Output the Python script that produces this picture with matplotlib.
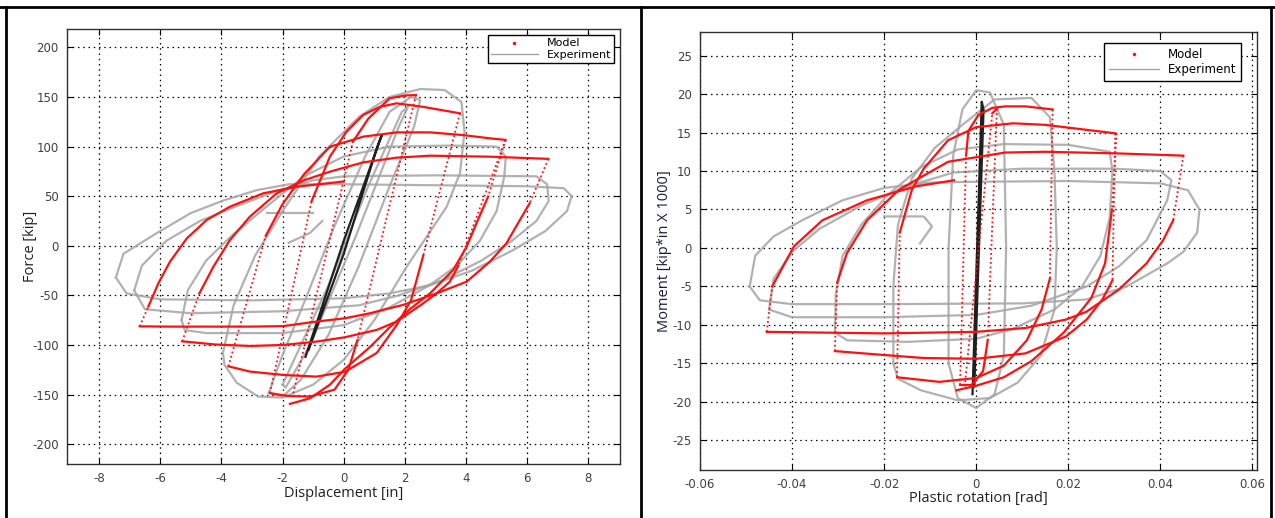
import matplotlib
matplotlib.use('Agg')
import matplotlib.pyplot as plt
from matplotlib.lines import Line2D
from matplotlib.ticker import FuncFormatter, MultipleLocator

plt.rcParams['axes.unicode_minus'] = False

# ---------------- left: force vs displacement ----------------
# model branches, reloading (start at negative corner)
force_up_1 = [(-6.67, -81.2), (-6.39, -61.4), (-6.06, -37.8), (-5.68, -16), (-5.13, 7.5), (-4.48, 26),
              (-3.72, 39.4), (-2.63, 52.9), (-1.54, 59.5), (0.0, 64.8)]
force_up_2 = [(-5.28, -96.3), (-4.72, -48), (-4.26, -21), (-3.72, 5.8), (-3.07, 29.3), (-2.19, 52.9),
              (-1.3, 66), (-0.45, 74.7), (0.64, 84.1), (1.73, 88.8), (2.82, 90.8), (4.78, 89.8), (6.69, 87.6)]
force_up_3 = [(-3.77, -121.5), (-2.55, 10), (-2.0, 42), (-1.3, 72), (-0.45, 99.9), (0.64, 110),
              (1.73, 114.3), (2.82, 114.3), (3.9, 111.6), (4.78, 108.3), (5.29, 106.7)]
force_up_4 = [(-2.41, -148.6), (-1.05, 45), (-0.45, 90), (0.09, 115), (0.64, 132), (1.18, 140),
              (1.73, 143.6), (2.6, 140), (3.8, 133.5)]
force_up_5 = [(-1.65, -148.6), (0.3, 105), (0.8, 128), (1.5, 148.6), (2.0, 151.5), (2.36, 152)]
# model branches, unloading (start at positive corner)
force_dn_1 = [(6.69, 87.6), (6.08, 42.8), (5.76, 26), (5.32, 2.5), (4.78, -16), (4.02, -36.2), (3.04, -47.9),
              (1.94, -59.6), (0.86, -68), (0.04, -73.1), (-0.89, -76.4), (-1.98, -81), (-3.07, -81.5),
              (-5.68, -81.5), (-6.67, -81.2)]
force_dn_2 = [(5.29, 106.7), (3.75, -20), (3.47, -36.2), (3.04, -47.9), (2.6, -58), (1.73, -76.4),
              (1.08, -84.8), (0.04, -92.2), (-0.89, -96.6), (-1.98, -100), (-3.07, -101), (-4.2, -99.5),
              (-5.28, -96.3)]
force_dn_3 = [(5.29, 106.7), (4.72, 49.5), (4.34, 22.7), (4.02, -0.9), (3.58, -24.4), (2.82, -48),
              (2.16, -64), (1.51, -82), (0.86, -102), (0.04, -124), (-0.45, -140), (-1.1, -153.7),
              (-1.76, -159.4)]
force_dn_4 = [(3.8, 133.5), (2.6, -10), (2.2, -55), (1.73, -80), (1.08, -108), (0.04, -127),
              (-0.89, -131.9), (-1.98, -130.2), (-3.07, -126.8), (-3.77, -121.5)]
force_dn_5 = [(2.36, 152), (0.45, -95), (0.15, -125), (-0.3, -145), (-1.1, -152), (-1.8, -151.5),
              (-2.41, -148.6)]

# experiment loops
force_exp_1 = [(-7.45, -32), (-7.2, -8), (-6.1, 13), (-5.0, 33), (-3.9, 46), (-2.85, 56), (-1.8, 62),
               (0, 62), (3, 61), (6, 60), (7.2, 58), (7.45, 50), (7.3, 35), (6.6, 15), (5.5, -5),
               (4.2, -25), (2.8, -40), (1.5, -48), (0, -53), (-3, -55), (-6, -54), (-7.1, -48), (-7.45, -32)]
force_exp_2 = [(-6.85, -45), (-6.6, -20), (-5.8, 5), (-4.7, 25), (-3.5, 40), (-2.2, 55), (-1, 66), (0, 70),
               (3, 71), (6.3, 70), (6.65, 62), (6.7, 45), (6.3, 25), (5.5, 5), (4.5, -15), (3.2, -35),
               (1.8, -50), (0.5, -60), (-2, -66), (-5, -68), (-6.5, -64), (-6.85, -45)]
force_exp_3 = [(-5.3, -75), (-5.1, -45), (-4.5, -15), (-3.6, 12), (-2.5, 40), (-1.3, 70), (0, 90),
               (1.5, 100), (3.5, 101), (5.0, 100), (5.3, 90), (5.25, 70), (5.0, 35), (4.45, 5),
               (3.7, -20), (2.8, -40), (1.5, -62), (0, -80), (-2, -88), (-4.5, -88), (-5.2, -85), (-5.3, -75)]
force_exp_4 = [(-3.95, -108), (-3.6, -60), (-2.9, -10), (-2.0, 35), (-0.8, 90), (0.5, 130), (1.5, 150),
               (2.5, 158), (3.3, 157), (3.85, 145), (3.95, 115), (3.8, 73), (3.36, 39), (2.71, 9),
               (2.06, -21), (1.0, -75), (0, -115), (-1.0, -140), (-2.0, -153), (-2.8, -152), (-3.5, -138),
               (-3.9, -120), (-3.95, -108)]
force_exp_5 = [(-2.45, -148), (-2.0, -110), (-1.2, -50), (-0.3, 20), (0.7, 90), (1.5, 135), (2.2, 150),
               (2.5, 147), (2.3, 120), (1.5, 60), (0.5, -20), (-0.5, -90), (-1.4, -135), (-2.0, -152),
               (-2.45, -148)]
force_exp_6 = [(-2.0, -140), (-0.5, -40), (0.8, 60), (1.9, 135), (2.1, 140), (1.8, 120), (0.4, 10),
               (-1.1, -100), (-1.9, -143), (-2.0, -140)]
force_exp_7 = [(-2.5, 33), (-1.0, 33)]
force_exp_8 = [(-1.8, 3), (-1.1, 13), (-0.7, 25)]
force_core = [(-1.25, -112), (0, 5), (1.25, 112), (1.1, 100), (0, -8), (-1.15, -105)]

# ---------------- right: moment vs plastic rotation ----------------
mom_up_1 = [(-0.0455, -10.9), (-0.0443, -5), (-0.0396, 0.2), (-0.0334, 3.6), (-0.0237, 6.2),
            (-0.0131, 8), (-0.0048, 8.8)]
mom_up_2 = [(-0.0307, -13.4), (-0.0302, -4.5), (-0.0281, -0.7), (-0.0237, 3.6), (-0.0167, 7.6),
            (-0.0061, 11.2), (0.0063, 12.4), (0.015, 12.5), (0.03, 12.3), (0.045, 12.0)]
mom_up_3 = [(-0.0172, -16.8), (-0.0166, 2), (-0.014, 7.5), (-0.0114, 10.3), (-0.0061, 14), (0.0, 15.7),
            (0.008, 16.2), (0.015, 16.0), (0.0302, 14.9)]
mom_up_4 = [(-0.0035, -17.8), (-0.0022, 12), (-0.0017, 15.2), (0.0005, 17.3), (0.0035, 18.2),
            (0.0063, 18.4), (0.0107, 18.4), (0.0166, 18.0)]
mom_up_5 = [(-0.0025, -18.0), (0.0035, 17.5), (0.0045, 18.1)]
mom_dn_1 = [(0.045, 12.0), (0.0428, 3.6), (0.0406, 1), (0.037, -2), (0.031, -5.4), (0.0239, -8.3),
            (0.0195, -9.3), (0.0107, -10.4), (0.0, -10.9), (-0.02, -11.1), (-0.0455, -10.9)]
mom_dn_2 = [(0.0302, 14.9), (0.0296, -4.2), (0.0274, -6.7), (0.024, -9.3), (0.0195, -11.5),
            (0.0107, -13.7), (0.0, -14.4), (-0.0114, -14.3), (-0.0202, -13.9), (-0.0307, -13.4)]
mom_dn_3 = [(0.0166, 18.0), (0.016, -4), (0.0142, -8), (0.011, -12), (0.006, -15.3), (0.0, -16.9),
            (-0.008, -17.4), (-0.0172, -16.8)]
mom_dn_4 = [(0.0305, 14.9), (0.0295, 5), (0.028, -2), (0.025, -6.5), (0.019, -11), (0.012, -14.7),
            (0.006, -16.8), (0.0, -17.9), (-0.0043, -18.5)]
mom_dn_5 = [(0.0045, 18.1), (0.0025, -12), (0.0015, -16), (-0.001, -17.8), (-0.0035, -17.8)]

mom_exp_1 = [(-0.0492, -5), (-0.048, -1), (-0.044, 1.5), (-0.0378, 3.6), (-0.029, 6.2), (-0.02, 7.8),
             (-0.01, 8.5), (0, 8.6), (0.02, 8.7), (0.04, 8.4), (0.046, 7.5), (0.0485, 5), (0.048, 2),
             (0.045, -0.5), (0.0415, -2), (0.0327, -5), (0.0239, -6.7), (0.01, -7.2), (-0.02, -7.3),
             (-0.04, -7.3), (-0.047, -6.8), (-0.0492, -5)]
mom_exp_2 = [(-0.045, -8), (-0.044, -4), (-0.04, -0.5), (-0.034, 2.5), (-0.025, 5.5), (-0.015, 8),
             (-0.005, 9.8), (0.01, 10.3), (0.03, 10.3), (0.04, 10), (0.0424, 8.8), (0.0415, 6.2),
             (0.037, 1), (0.031, -2.4), (0.024, -5), (0.012, -7.5), (0, -8.7), (-0.02, -9), (-0.04, -9),
             (-0.045, -8)]
mom_exp_3 = [(-0.0307, -11), (-0.0305, -6), (-0.029, -1), (-0.025, 3), (-0.019, 7), (-0.012, 10.5),
             (-0.004, 12.8), (0.006, 13.5), (0.02, 13.4), (0.029, 12.5), (0.0296, 10), (0.029, 4),
             (0.027, -1), (0.023, -5), (0.017, -8), (0.008, -10.5), (0, -11.8), (-0.015, -12.2),
             (-0.028, -12), (-0.0307, -11)]
mom_exp_4 = [(-0.018, -15), (-0.018, -5), (-0.017, 3), (-0.014, 9), (-0.009, 13), (-0.003, 16),
             (0.004, 19.3), (0.012, 19.5), (0.016, 17), (0.017, 10), (0.0175, 0), (0.017, -8),
             (0.014, -14), (0.009, -17.5), (0.003, -19.5), (-0.004, -19.8), (-0.012, -18.5),
             (-0.017, -17), (-0.018, -15)]
mom_exp_5 = [(-0.006, -15), (-0.006, 0), (-0.005, 12), (-0.003, 18), (0, 20.5), (0.003, 20.2),
             (0.006, 16), (0.0065, 0), (0.006, -14), (0.004, -19), (0, -20.8), (-0.004, -19.5),
             (-0.006, -15)]
mom_exp_6 = [(-0.02, 4.1), (-0.0114, 4.1), (-0.0096, 2.8), (-0.0122, 0.6)]
mom_core = [(-0.0008, -19), (0.0002, 0), (0.0012, 19), (0.0016, 18), (0.0006, 0), (-0.0004, -18)]

force_model = [force_up_1, force_up_2, force_up_3, force_up_4, force_up_5,
               force_dn_1, force_dn_2, force_dn_3, force_dn_4, force_dn_5]
force_exp = [force_exp_1, force_exp_2, force_exp_3, force_exp_4, force_exp_5, force_exp_6,
             force_exp_7, force_exp_8]
mom_model = [mom_up_1, mom_up_2, mom_up_3, mom_up_4, mom_up_5,
             mom_dn_1, mom_dn_2, mom_dn_3, mom_dn_4, mom_dn_5]
mom_exp = [mom_exp_1, mom_exp_2, mom_exp_3, mom_exp_4, mom_exp_5, mom_exp_6]

RED = '#ff1010'
GREY = '#a4a4a4'


def draw(ax, model, exp, core):
    for lp in exp:
        xs, ys = zip(*lp)
        ax.plot(xs, ys, color=GREY, lw=1.6, alpha=0.85, solid_joinstyle='round')
    xs, ys = zip(*core)
    ax.plot(xs, ys, color='#202020', lw=1.6)
    for br in model:
        xs, ys = zip(*br)
        # first leg after a reversal is steep -> sparse dots in the original
        ax.plot(xs[:2], ys[:2], color=RED, lw=1.3, ls=(0, (1, 1.5)))
        ax.plot(xs[1:], ys[1:], color=RED, lw=1.6, solid_joinstyle='round')


def style(ax):
    ax.set_axisbelow(True)
    ax.grid(True, color='k', lw=0.9, ls=(0, (1.2, 3)))
    ax.tick_params(direction='in', top=True, right=True, length=4, labelsize=8.5,
                   labelcolor='#404040', pad=6)
    for s in ax.spines.values():
        s.set_linewidth(1.0)
        s.set_color('#303030')
    hs = [Line2D([], [], color=RED, marker='.', ms=3, ls='none'),
          Line2D([], [], color=GREY, lw=1.0)]
    return hs


fig = plt.figure(figsize=(12.75, 5.18), dpi=100)

ax1 = fig.add_axes([0.0525, 0.1042, 0.4337, 0.8398])
draw(ax1, force_model, force_exp, force_core)
hs = style(ax1)
ax1.set_xlim(-9.05, 9.03)
ax1.set_ylim(-220, 218.5)
ax1.xaxis.set_major_locator(MultipleLocator(2))
ax1.yaxis.set_major_locator(MultipleLocator(50))
ax1.set_xlabel('Displacement [in]', fontsize=10.5, family='Open Sans', color='#202020')
ax1.set_ylabel('Force [kip]', fontsize=10.5, family='Open Sans', color='#202020')
ax1.xaxis.set_label_coords(0.5, -0.068, transform=ax1.transAxes)
ax1.yaxis.set_label_coords(-0.066, 0.5, transform=ax1.transAxes)
ax1.xaxis.label.set_va('center')
ax1.yaxis.label.set_va('center')
ax1.legend(hs, ['Model', 'Experiment'], loc='upper right', bbox_to_anchor=(0.99, 0.986),
           fancybox=False, edgecolor='k', framealpha=1, fontsize=8, handlelength=4.2,
           borderpad=0.3, labelspacing=0.1, borderaxespad=0).get_frame().set_linewidth(1.0)

ax2 = fig.add_axes([0.549, 0.0927, 0.4369, 0.8456])
draw(ax2, mom_model, mom_exp, mom_core)
style(ax2)
ax2.set_xlim(-0.06, 0.061)
ax2.set_ylim(-28.85, 28.07)
ax2.xaxis.set_major_locator(MultipleLocator(0.02))
ax2.yaxis.set_major_locator(MultipleLocator(5))
ax2.xaxis.set_major_formatter(FuncFormatter(lambda v, p: '%g' % round(v, 3)))
ax2.set_xlabel('Plastic rotation [rad]', fontsize=10.5, family='Open Sans', color='#202020')
ax2.set_ylabel('Moment [kip*in X 1000]', fontsize=10.5, family='Open Sans', color='#1a1a40')
ax2.xaxis.set_label_coords(0.5, -0.064, transform=ax2.transAxes)
ax2.yaxis.set_label_coords(-0.064, 0.5, transform=ax2.transAxes)
ax2.xaxis.label.set_va('center')
ax2.yaxis.label.set_va('center')
ax2.legend(hs, ['Model', 'Experiment'], loc='upper right', bbox_to_anchor=(0.972, 0.975),
           fancybox=False, edgecolor='k', framealpha=1, fontsize=8.5, handlelength=4.2,
           borderpad=0.4, labelspacing=0.2, borderaxespad=0).get_frame().set_linewidth(1.0)

# page frame around the two panels
for (x0, y0, x1, y1) in [(0, 0.986, 1, 0.986), (0.005, 0, 0.005, 0.986),
                         (0.5025, 0, 0.5025, 0.986), (0.997, 0, 0.997, 0.986)]:
    fig.add_artist(Line2D([x0, x1], [y0, y1], color='k', lw=2, transform=fig.transFigure))

fig.savefig('out.png', dpi=100)
